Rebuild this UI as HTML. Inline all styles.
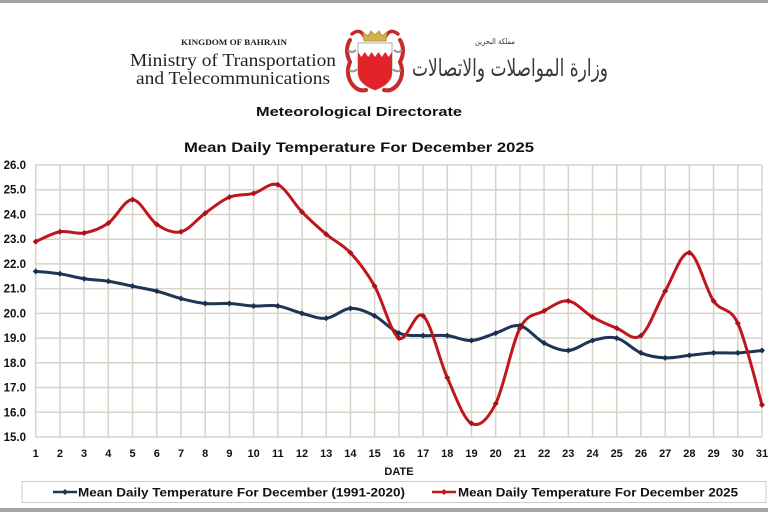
<!DOCTYPE html>
<html><head><meta charset="utf-8"><style>html,body{margin:0;padding:0;background:#fff}svg{display:block}</style></head>
<body>
<svg width="768" height="512" viewBox="0 0 768 512" xmlns="http://www.w3.org/2000/svg">
<rect width="768" height="512" fill="#fff"/>
<rect x="0" y="0" width="768" height="3" fill="#a3a3a3"/>
<rect x="0" y="508" width="768" height="4" fill="#a6a6a6"/>

<!-- Header -->
<g fill="#222" font-family="Liberation Serif, serif">
<text x="234" y="45" font-size="8" font-weight="bold" text-anchor="middle" textLength="106" lengthAdjust="spacingAndGlyphs">KINGDOM OF BAHRAIN</text>
<text x="233" y="66" font-size="18" text-anchor="middle" textLength="206" lengthAdjust="spacingAndGlyphs">Ministry of Transportation</text>
<text x="233" y="84" font-size="18" text-anchor="middle" textLength="194" lengthAdjust="spacingAndGlyphs">and Telecommunications</text>
</g>

<!-- Emblem -->
<g>
<path d="M350 40 q-6 10 0 22 q-5 12 2 22 q6 8 14 6" fill="none" stroke="#c62a2a" stroke-width="4" stroke-linecap="round"/>
<path d="M400 40 q6 10 0 22 q5 12 -2 22 q-6 8 -14 6" fill="none" stroke="#c62a2a" stroke-width="4" stroke-linecap="round"/>
<path d="M352 34 q8 -6 12 2 M398 34 q-8 -6 -12 2" fill="none" stroke="#c62a2a" stroke-width="3.5" stroke-linecap="round"/>
<path d="M348 50 q4 4 8 0 M402 50 q-4 4 -8 0 M349 70 q5 3 8 -1 M401 70 q-5 3 -8 -1" fill="none" stroke="#999" stroke-width="2"/>
<path d="M364 41 L363 32 L368 36 L371 31 L375 35 L379 31 L382 36 L387 32 L386 41 Z" fill="#d4b24a" stroke="#a8882a" stroke-width="0.8"/>
<path d="M358 43 H392 V72 Q392 84 375 90 Q358 84 358 72 Z" fill="#fff" stroke="#aaa" stroke-width="1"/>
<path d="M358 52 L361.4 57 L364.8 52 L368.2 57 L371.6 52 L375 57 L378.4 52 L381.8 57 L385.2 52 L388.6 57 L392 52 V72 Q392 84 375 90 Q358 84 358 72 Z" fill="#e2232a"/>
</g>

<!-- Arabic -->
<g fill="#3a3a3a" font-family="DejaVu Sans, sans-serif">
<text x="495" y="44" font-size="8" text-anchor="middle" textLength="40" lengthAdjust="spacingAndGlyphs">مملكة البحرين</text>
<text x="510" y="76" font-size="24" text-anchor="middle" textLength="196" lengthAdjust="spacingAndGlyphs">وزارة المواصلات والاتصالات</text>
</g>

<g font-family="Liberation Sans, Arial, sans-serif" font-weight="bold" fill="#111">
<text x="359" y="116" font-size="13" text-anchor="middle" textLength="206" lengthAdjust="spacingAndGlyphs">Meteorological Directorate</text>
<text x="359" y="152" font-size="14" text-anchor="middle" textLength="350" lengthAdjust="spacingAndGlyphs">Mean Daily Temperature For December 2025</text>
</g>

<!-- Grid -->
<g stroke="#d6d3c9" stroke-width="1.5" fill="none">
<path d="M35.7 165V437M59.9 165V437M84.1 165V437M108.3 165V437M132.5 165V437M156.8 165V437M181 165V437M205.2 165V437M229.4 165V437M253.6 165V437M277.8 165V437M302 165V437M326.2 165V437M350.4 165V437M374.6 165V437M398.9 165V437M423.1 165V437M447.3 165V437M471.5 165V437M495.7 165V437M519.9 165V437M544.1 165V437M568.3 165V437M592.5 165V437M616.7 165V437M641 165V437M665.2 165V437M689.4 165V437M713.6 165V437M737.8 165V437M762 165V437"/>
<path d="M35 165H762M35 189.7H762M35 214.5H762M35 239.2H762M35 263.9H762M35 288.6H762M35 313.4H762M35 338.1H762M35 362.8H762M35 387.5H762M35 412.3H762M35 437H762"/>
</g>

<!-- Y labels -->
<g font-family="Liberation Sans, Arial, sans-serif" font-weight="bold" font-size="11.5" fill="#111" text-anchor="end">
<text x="26" y="169">26.0</text><text x="26" y="193.7">25.0</text><text x="26" y="218.5">24.0</text><text x="26" y="243.2">23.0</text><text x="26" y="267.9">22.0</text><text x="26" y="292.6">21.0</text><text x="26" y="317.4">20.0</text><text x="26" y="342.1">19.0</text><text x="26" y="366.8">18.0</text><text x="26" y="391.5">17.0</text><text x="26" y="416.3">16.0</text><text x="26" y="441">15.0</text>
</g>

<!-- X labels -->
<g font-family="Liberation Sans, Arial, sans-serif" font-weight="bold" font-size="11" fill="#111" text-anchor="middle">
<text x="35.7" y="457">1</text><text x="59.9" y="457">2</text><text x="84.1" y="457">3</text><text x="108.3" y="457">4</text><text x="132.5" y="457">5</text><text x="156.8" y="457">6</text><text x="181" y="457">7</text><text x="205.2" y="457">8</text><text x="229.4" y="457">9</text><text x="253.6" y="457">10</text><text x="277.8" y="457">11</text><text x="302" y="457">12</text><text x="326.2" y="457">13</text><text x="350.4" y="457">14</text><text x="374.6" y="457">15</text><text x="398.9" y="457">16</text><text x="423.1" y="457">17</text><text x="447.3" y="457">18</text><text x="471.5" y="457">19</text><text x="495.7" y="457">20</text><text x="519.9" y="457">21</text><text x="544.1" y="457">22</text><text x="568.3" y="457">23</text><text x="592.5" y="457">24</text><text x="616.7" y="457">25</text><text x="641" y="457">26</text><text x="665.2" y="457">27</text><text x="689.4" y="457">28</text><text x="713.6" y="457">29</text><text x="737.8" y="457">30</text><text x="762" y="457">31</text>
<text x="399" y="475">DATE</text>
</g>

<!-- Series -->
<path id="bp" fill="none" stroke="#1e3557" stroke-width="3" stroke-linejoin="round" d="M35.7 271.2 L59.9 273.7 L84.1 278.6 L108.3 281.1 L132.5 286.0 L156.8 291.0 L181.0 298.4 L205.2 303.3 L229.4 303.3 L253.6 305.8 L277.8 305.8 L302.0 313.2 L326.2 318.1 L350.4 308.3 L374.6 315.7 L398.9 333.0 L423.1 335.4 L447.3 335.4 L471.5 340.4 L495.7 333.0 L519.9 325.6 L544.1 342.8 L568.3 350.3 L592.5 340.4 L616.7 337.9 L641.0 352.7 L665.2 357.7 L689.4 355.2 L713.6 352.7 L737.8 352.7 L762.0 350.3"/>
<path id="rp" fill="none" stroke="#c0161d" stroke-width="3" stroke-linejoin="round" d="M35.7 241.6 L59.9 231.7 L84.1 233.0 L108.3 223.0 L132.5 199.6 L156.8 224.3 L181.0 231.7 L205.2 213.2 L229.4 197.1 L253.6 193.4 L277.8 184.8 L302.0 211.9 L326.2 234.2 L350.4 252.7 L374.6 286.0 L398.9 337.9 L423.1 315.7 L447.3 377.4 L471.5 423.1 L495.7 403.4 L519.9 328.0 L544.1 310.7 L568.3 300.9 L592.5 316.9 L616.7 328.0 L641.0 335.4 L665.2 291.0 L689.4 252.7 L713.6 300.9 L737.8 323.1 L762.0 404.6"/>
<g id="marks"></g>

<!-- Legend -->
<rect x="22" y="481.5" width="744" height="21" fill="#fff" stroke="#d2c9c9" stroke-width="1"/>
<line x1="53" y1="492" x2="77" y2="492" stroke="#1e3557" stroke-width="2.5"/>
<path d="M65 489 L68 492 L65 495 L62 492 Z" fill="#1e3557"/>
<line x1="432" y1="492" x2="456" y2="492" stroke="#c0161d" stroke-width="2.5"/>
<path d="M444 489 L447 492 L444 495 L441 492 Z" fill="#c0161d"/>
<g font-family="Liberation Sans, Arial, sans-serif" font-weight="bold" font-size="12" fill="#111">
<text x="78" y="496.5" textLength="327" lengthAdjust="spacingAndGlyphs">Mean Daily Temperature For December (1991-2020)</text>
<text x="458" y="496.5" textLength="280" lengthAdjust="spacingAndGlyphs">Mean Daily Temperature For December 2025</text>
</g>
</svg>
<script>
(function(){
var X=function(d){return 35.7+(d-1)*24.21;}, Y=function(v){return 165+(26-v)*24.727;};
var blue=[21.7,21.6,21.4,21.3,21.1,20.9,20.6,20.4,20.4,20.3,20.3,20.0,19.8,20.2,19.9,19.2,19.1,19.1,18.9,19.2,19.5,18.8,18.5,18.9,19.0,18.4,18.2,18.3,18.4,18.4,18.5];
var red=[22.9,23.3,23.25,23.65,24.6,23.6,23.3,24.05,24.7,24.85,25.2,24.1,23.2,22.45,21.1,19.0,19.9,17.4,15.55,16.35,19.4,20.1,20.5,19.85,19.4,19.1,20.9,22.45,20.5,19.6,16.3];
function pts(a){return a.map(function(v,i){return [X(i+1),Y(v)];});}
function smooth(p){
  var d="M"+p[0][0].toFixed(2)+" "+p[0][1].toFixed(2);
  for(var i=0;i<p.length-1;i++){
    var p0=p[i-1]||p[i],p1=p[i],p2=p[i+1],p3=p[i+2]||p[i+1];
    var c1x=p1[0]+(p2[0]-p0[0])/6,c1y=p1[1]+(p2[1]-p0[1])/6;
    var c2x=p2[0]-(p3[0]-p1[0])/6,c2y=p2[1]-(p3[1]-p1[1])/6;
    d+=" C"+c1x.toFixed(2)+" "+c1y.toFixed(2)+" "+c2x.toFixed(2)+" "+c2y.toFixed(2)+" "+p2[0].toFixed(2)+" "+p2[1].toFixed(2);
  }
  return d;
}
var bp=pts(blue), rp=pts(red);
document.getElementById("bp").setAttribute("d",smooth(bp));
document.getElementById("rp").setAttribute("d",smooth(rp));
var g=document.getElementById("marks"), ns="http://www.w3.org/2000/svg";
function mk(p,c){p.forEach(function(q){var e=document.createElementNS(ns,"path");
  e.setAttribute("d","M"+q[0]+" "+(q[1]-3)+" L"+(q[0]+3)+" "+q[1]+" L"+q[0]+" "+(q[1]+3)+" L"+(q[0]-3)+" "+q[1]+" Z");
  e.setAttribute("fill",c);g.appendChild(e);});}
mk(bp,"#1a2f4f");mk(rp,"#a81218");
})();
</script>
</body></html>
